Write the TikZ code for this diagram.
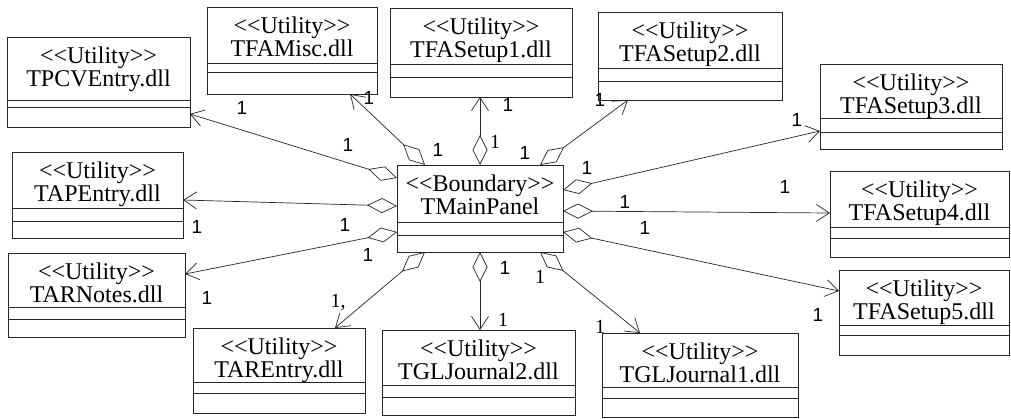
\documentclass[tikz,border=0pt]{standalone}
\usepackage{fontspec}
\setmainfont{Liberation Serif}
\newfontfamily\labsans{Liberation Sans}
\usetikzlibrary{arrows.meta,calc}
\newcommand\dlt{<\kern0pt<}
\newcommand\dgt{>\kern0pt>}
\tikzset{
  cls/.style={draw=black!85, line width=0.8pt, inner sep=0pt, outer sep=0pt, rectangle, fill=white},
  seprule/.style={draw=black!85, line width=0.8pt},
  ctext/.style={align=center, font=\fontsize{24}{23}\selectfont, inner sep=0pt, anchor=north},
  assoc/.style={draw=black!85, line width=0.7pt, {Diamond[open,length=30pt,width=15pt]}-{Straight Barb[length=13pt,width=17pt]}},
  mult/.style={font=\labsans\fontsize{19}{19}\selectfont, inner sep=0pt},
  mults/.style={font=\fontsize{20}{20}\selectfont, inner sep=0pt},
}
\newcommand\umlbox[8]{%
  \pgfmathsetmacro\bw{#4-#2}\pgfmathsetmacro\bh{#5-#3}%
  \pgfmathsetmacro\bx{(#2+#4)/2}\pgfmathsetmacro\by{(#3+#5)/2}%
  \node[cls, minimum width=\bw pt, minimum height=\bh pt] (#1) at (\bx,\by) {};
  \draw[seprule] (#1.west |- 0,#6) -- (#1.east |- 0,#6);
  \draw[seprule] (#1.west |- 0,#7) -- (#1.east |- 0,#7);
  \node[ctext] (#1-t) at ($(#1.north)+(0,10)$) {#8};
}
\begin{document}
\begin{tikzpicture}[x=1pt,y=-1pt]
\useasboundingbox[fill=white] (0,0) rectangle (1011,419);
\umlbox{tpcv}{7}{37}{190}{127}{100}{107}{\dlt Utility\dgt\\TPCVEntry.dll}
\umlbox{misc}{207}{7}{377}{94}{63}{72}{\dlt Utility\dgt\\TFAMisc.dll}
\umlbox{sa}{390}{8}{572}{97}{64}{77}{\dlt Utility\dgt\\TFASetup1.dll}
\umlbox{sb}{598}{12}{782}{100}{68}{81}{\dlt Utility\dgt\\TFASetup2.dll}
\umlbox{sc}{820}{64}{1002}{149}{118}{132}{\dlt Utility\dgt\\TFASetup3.dll}
\umlbox{sd}{830}{171}{1009}{257}{227}{238}{\dlt Utility\dgt\\TFASetup4.dll}
\umlbox{se}{839}{270}{1009}{355}{325}{335}{\dlt Utility\dgt\\TFASetup5.dll}
\umlbox{gla}{602}{333}{798}{417}{387}{398}{\dlt Utility\dgt\\TGLJournal1.dll}
\umlbox{glb}{382}{330}{575}{415}{385}{397}{\dlt Utility\dgt\\TGLJournal2.dll}
\umlbox{are}{193}{328}{365}{413}{382}{393}{\dlt Utility\dgt\\TAREntry.dll}
\umlbox{arn}{8}{253}{185}{337}{307}{319}{\dlt Utility\dgt\\TARNotes.dll}
\umlbox{ape}{12}{152}{183}{238}{208}{221}{\dlt Utility\dgt\\TAPEntry.dll}
\umlbox{main}{397}{165}{563}{252}{222}{235}{\dlt Boundary\dgt\\TMainPanel}

\draw[assoc] (main.west |- 0,178) -- (tpcv.east |- 0,114);
\draw[assoc] (main.west |- 0,206) -- (ape.east |- 0,200);
\draw[assoc] (main.west |- 0,232) -- (arn.east |- 0,274);
\draw[assoc] (main.south -| 425,0) -- (are.north -| 335,0);
\draw[assoc] (main.south) -- (main.south |- glb.north);
\draw[assoc] (main.south -| 540,0) -- (gla.north -| 640,0);
\draw[assoc] (main.east |- 0,232) -- (se.west |- 0,291);
\draw[assoc] (main.east |- 0,211) -- (sd.west |- 0,213);
\draw[assoc] (main.east |- 0,190) -- (sc.west |- 0,131);
\draw[assoc] (main.north -| 540,0) -- (sb.south -| 628,0);
\draw[assoc] (main.north) -- (main.north |- sa.south);
\draw[assoc] (main.north -| 425,0) -- (misc.south -| 350,0);

\node[mult] (m1) at (242,108) {1};
\node[mult] (m2) at (348,145) {1};
\node[mult] (m3) at (369,98) {1};
\node[mult] (m4) at (438,150) {1};
\node[mult] (m5) at (508,105) {1};
\node[mult] (m6) at (600,100) {1};
\node[mult] (m7) at (525,153) {1};
\node[mult] (m8) at (797,120) {1};
\node[mult] (m9) at (587,168) {1};
\node[mult] (m10) at (785,187) {1};
\node[mult] (m11) at (625,202) {1};
\node[mult] (m12) at (818,315) {1};
\node[mult] (m13) at (645,228) {1};
\node[mult] (m14) at (505,268) {1};
\node[mult] (m15) at (368,255) {1};
\node[mult] (m16) at (207,298) {1};
\node[mult] (m17) at (345,225) {1};
\node[mult] (m18) at (197,227) {1};
\node[mults] (m19) at (495,142) {1};
\node[mults] (m20) at (503,320) {1};
\node[mults] (m21) at (540,277) {1};
\node[mults] (m22) at (600,327) {1};
\node[mults] (m23) at (338,302) {1,};
\end{tikzpicture}
\end{document}
